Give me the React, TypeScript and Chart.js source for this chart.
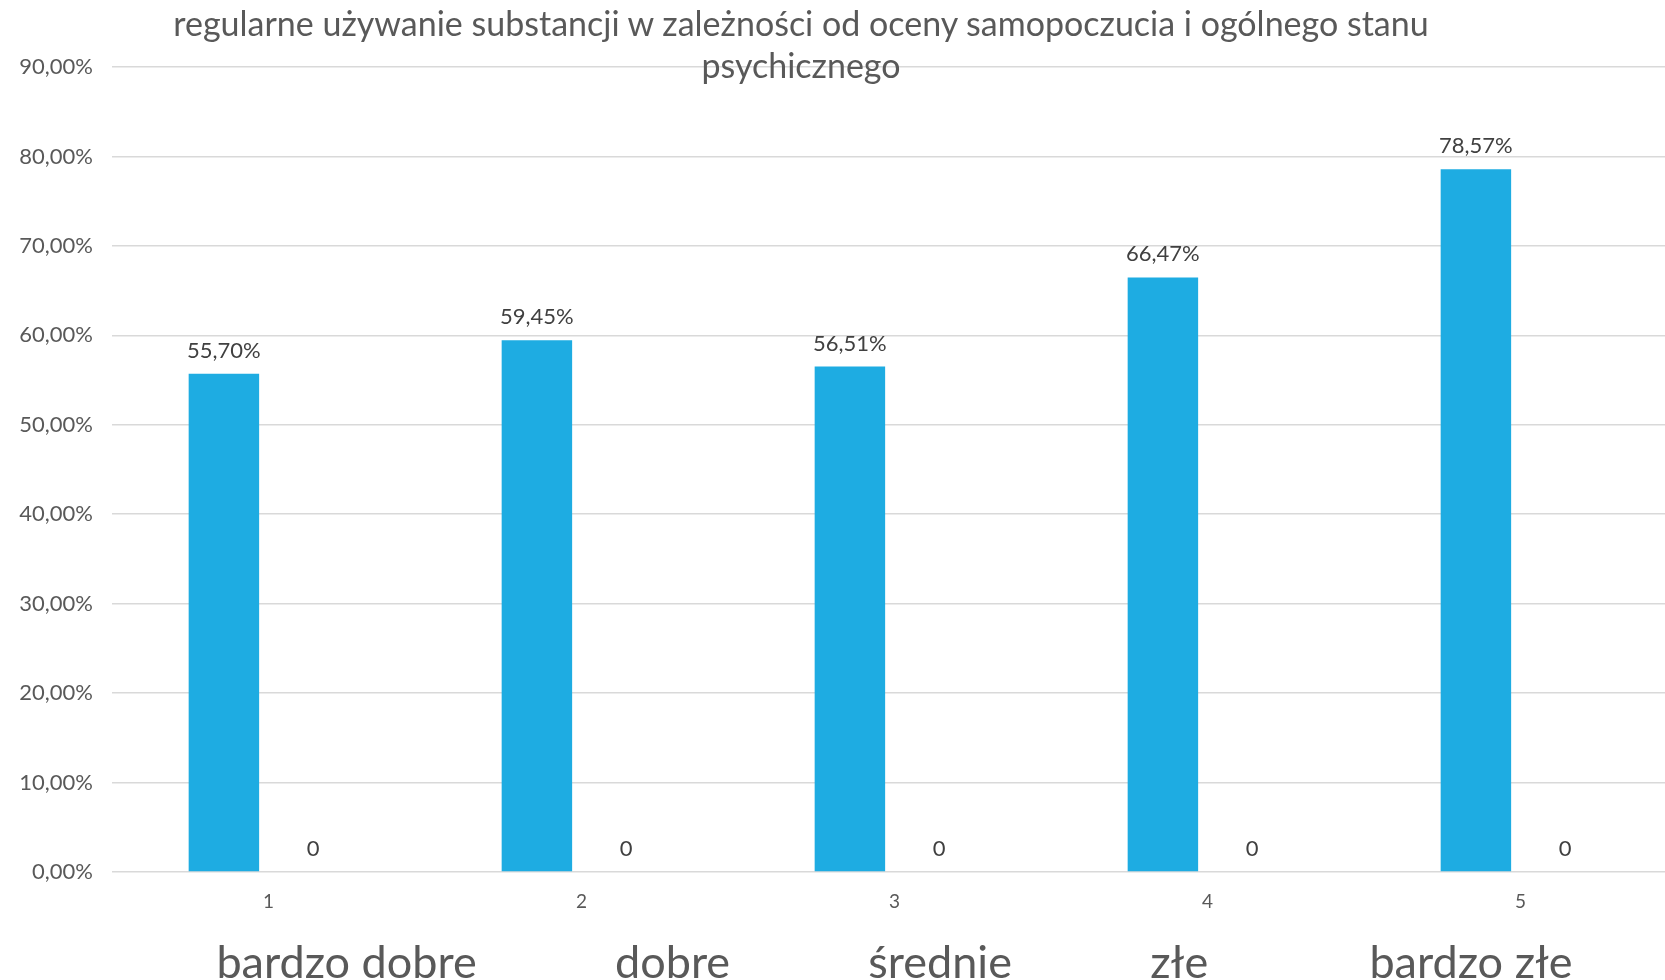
import React, { useEffect, useRef } from "react";
import { Chart, registerables } from "chart.js";

Chart.register(...registerables);

const TITLE_LINES = [
  "regularne używanie substancji w zależności od oceny samopoczucia i ogólnego stanu",
  "psychicznego",
];
const CATEGORIES = ["1", "2", "3", "4", "5"];
const REGULAR_USE = [55.7, 59.45, 56.51, 66.47, 78.57];
const SECOND_SERIES = [0, 0, 0, 0, 0];
const MOOD_LABELS = ["bardzo dobre", "dobre", "średnie", "złe", "bardzo złe"];
const MOOD_GAPS = [12, 12, 12, 14]; // spaces between the words of the axis title

const FONT = "Lato, 'Open Sans', sans-serif";
const BAR_COLOR = "#1EACE2";

const pct = (v: number) => v.toFixed(2).replace(".", ",") + "%";

// draws the value above each bar (no datalabels plugin available)
const valueLabels = {
  id: "valueLabels",
  afterDatasetsDraw(chart: any) {
    const ctx = chart.ctx;
    ctx.save();
    ctx.font = `22px ${FONT}`;
    ctx.fillStyle = "#404040";
    ctx.textAlign = "center";
    ctx.textBaseline = "alphabetic";
    chart.data.datasets.forEach((ds: any, i: number) => {
      chart.getDatasetMeta(i).data.forEach((bar: any, j: number) => {
        const v = ds.data[j];
        const txt = i === 0 ? pct(v) : String(v);
        ctx.fillText(txt, bar.x, bar.y - 16);
      });
    });
    ctx.restore();
  },
};

const App = () => {
  const chartRef = useRef<HTMLCanvasElement>(null);

  useEffect(() => {
    if (!chartRef.current) return;
    const ctx = chartRef.current.getContext("2d");
    if (!ctx) return;

    const axisTitle = MOOD_LABELS.reduce(
      (acc, w, i) => (i === 0 ? w : acc + " ".repeat(MOOD_GAPS[i - 1]) + w),
      ""
    );

    const chart = new Chart(ctx, {
      type: "bar",
      data: {
        labels: CATEGORIES,
        datasets: [
          {
            data: REGULAR_USE,
            backgroundColor: BAR_COLOR,
            barPercentage: 0.79,
            categoryPercentage: 0.57,
          },
          {
            data: SECOND_SERIES,
            backgroundColor: "#A5A5A5",
            barPercentage: 0.79,
            categoryPercentage: 0.57,
          },
        ],
      },
      options: {
        animation: false,
        responsive: true,
        maintainAspectRatio: false,
        layout: { padding: { top: 67, right: 13, left: 0, bottom: 0 } },
        plugins: {
          legend: { display: false },
          tooltip: { enabled: false },
        },
        scales: {
          x: {
            grid: { display: false },
            border: { display: false },
            ticks: {
              color: "#595959",
              font: { family: FONT, size: 19 },
              padding: 10,
            },
            title: {
              display: true,
              text: axisTitle,
              color: "#595959",
              font: { family: FONT, size: 45, lineHeight: 1.2 },
              padding: { top: 0, bottom: 10 },
            },
            afterFit: (scale: any) => {
              scale.height = 128;
            },
          },
          y: {
            min: 0,
            max: 90,
            border: { display: false },
            grid: { color: "#D9D9D9", lineWidth: 1.5, drawTicks: false },
            ticks: {
              stepSize: 10,
              color: "#595959",
              font: { family: FONT, size: 22 },
              padding: 19,
              callback: (v: any) => pct(Number(v)),
            },
            afterFit: (scale: any) => {
              scale.width = 112;
            },
          },
        },
      },
      plugins: [valueLabels],
    });

    return () => {
      chart.destroy();
    };
  }, []);

  return (
    <div
      style={{
        position: "absolute",
        left: 0,
        top: 0,
        width: 1665,
        height: 980,
        overflow: "hidden",
        background: "#fff",
      }}
    >
      <div style={{ position: "absolute", left: 0, top: 0, width: 1690, height: 1000 }}>
        <canvas ref={chartRef}></canvas>
      </div>
      <div
        style={{
          position: "absolute",
          left: 0,
          top: 2,
          width: 1602,
          textAlign: "center",
          fontFamily: FONT,
          fontSize: 34,
          lineHeight: "42px",
          color: "#595959",
          pointerEvents: "none",
        }}
      >
        {TITLE_LINES.map((line) => (
          <div key={line}>{line}</div>
        ))}
      </div>
    </div>
  );
};

export default App;
